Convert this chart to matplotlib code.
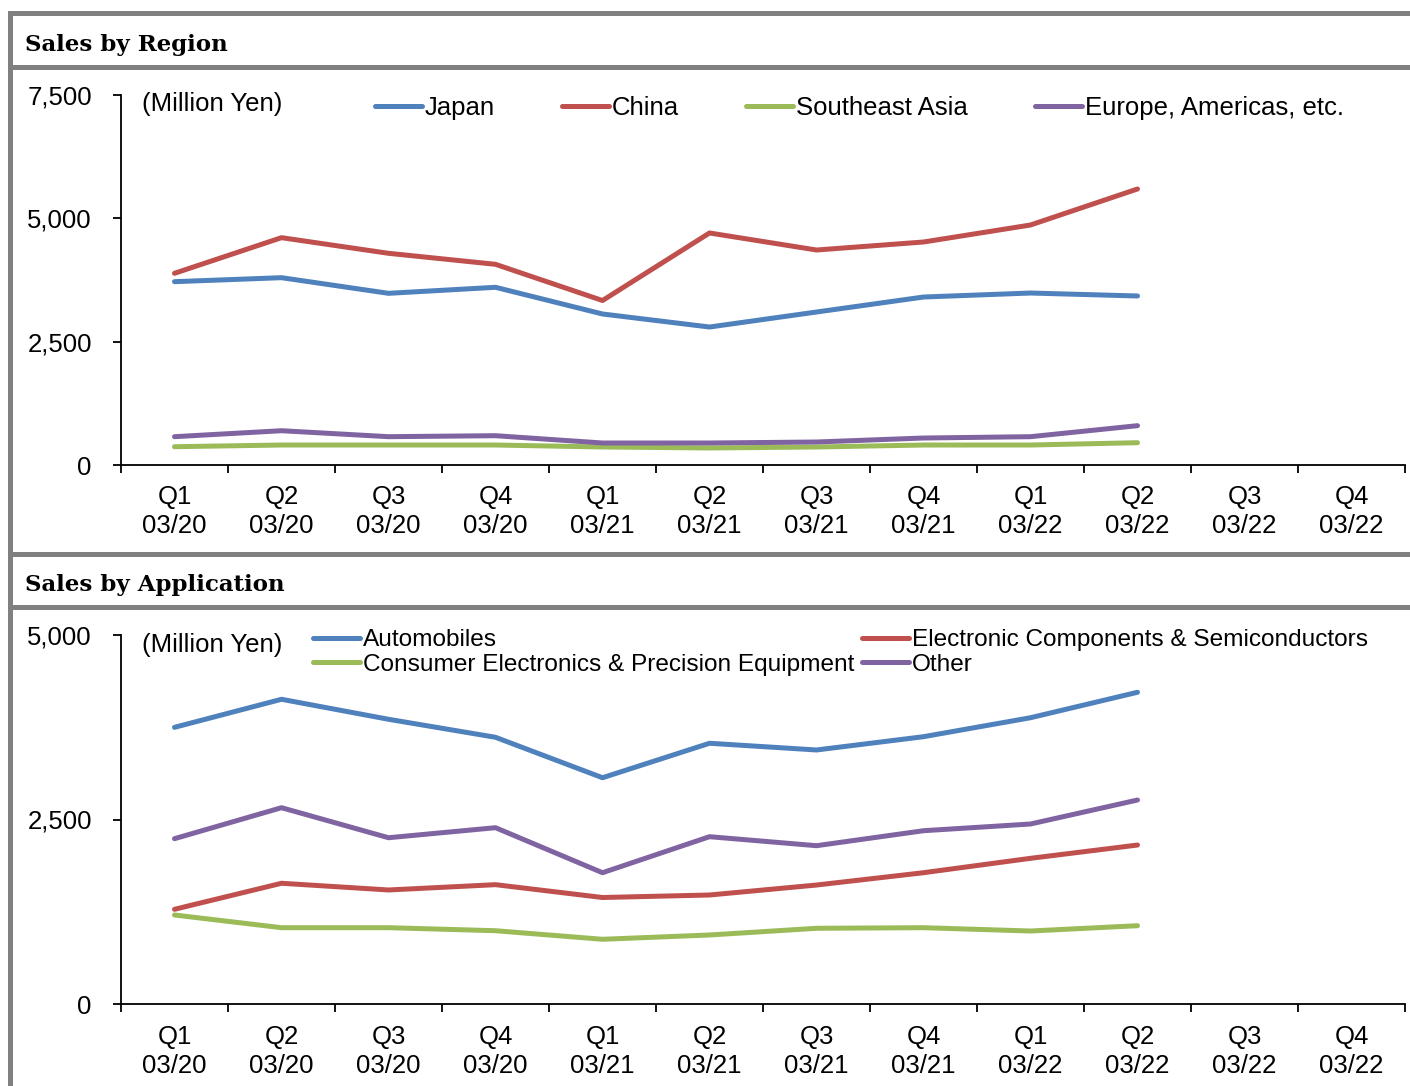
import matplotlib.pyplot as plt
from matplotlib.patches import Rectangle
from matplotlib.ticker import FuncFormatter, FixedLocator

W, H = 1410, 1086

quarters = ["Q1\n03/20", "Q2\n03/20", "Q3\n03/20", "Q4\n03/20",
            "Q1\n03/21", "Q2\n03/21", "Q3\n03/21", "Q4\n03/21",
            "Q1\n03/22", "Q2\n03/22", "Q3\n03/22", "Q4\n03/22"]

# sales by region (million yen), Q1 03/20 .. Q2 03/22
japan = [3716, 3797, 3480, 3602, 3061, 2797, 3101, 3405, 3486, 3426]
china = [3886, 4608, 4291, 4068, 3334, 4703, 4358, 4520, 4865, 5595]
se_asia = [371, 405, 405, 405, 365, 345, 365, 405, 405, 452]
europe_am = [574, 695, 574, 594, 446, 446, 466, 547, 574, 797]

# sales by application (million yen)
automobiles = [3749, 4129, 3858, 3614, 3066, 3533, 3442, 3622, 3879, 4224]
electronic = [1283, 1636, 1545, 1617, 1443, 1477, 1612, 1779, 1974, 2154]
consumer = [1206, 1034, 1034, 993, 877, 935, 1026, 1034, 989, 1061]
other = [2240, 2660, 2253, 2389, 1779, 2267, 2145, 2348, 2439, 2764]

BLUE, RED, GREEN, PURPLE = "#4F81BD", "#C0504D", "#9BBB59", "#8064A2"
GREY = "#808080"
FS = 18.5

plt.rcParams["font.family"] = "Liberation Sans"


def px_rect(fig, x0, y0, x1, y1):
    # rectangle given in pixel coords, origin top-left
    fig.patches.append(Rectangle((x0 / W, 1 - y1 / H), (x1 - x0) / W, (y1 - y0) / H,
                                 transform=fig.transFigure, color=GREY, lw=0))


def setup_axes(ax, ymax, yticks, unit_y, xpad):
    n = len(quarters)
    ax.set_xlim(-0.5, n - 0.5)
    ax.set_ylim(0, ymax)
    for s in ["top", "right"]:
        ax.spines[s].set_visible(False)
    for s in ["left", "bottom"]:
        ax.spines[s].set_linewidth(1.3)
    ax.xaxis.set_major_locator(FixedLocator([i - 0.5 for i in range(n + 1)]))
    ax.xaxis.set_major_formatter(FuncFormatter(lambda v, p: ""))
    ax.xaxis.set_minor_locator(FixedLocator(range(n)))
    ax.set_xticklabels(quarters, minor=True)
    ax.tick_params(axis="x", which="major", direction="out", length=6, width=1.3)
    ax.tick_params(axis="x", which="minor", length=0, pad=xpad, labelsize=FS)
    for lab in ax.get_xticklabels(minor=True):
        lab.set_linespacing(1.25)
    ax.set_yticks(yticks)
    ax.yaxis.set_major_formatter(FuncFormatter(lambda v, p: f"{int(v):,}"))
    ax.tick_params(axis="y", direction="out", length=6, width=1.3, pad=15, labelsize=FS)
    ax.text(0.0164, unit_y, "(Million Yen)", transform=ax.transAxes,
            fontsize=FS, va="center", ha="left")


fig = plt.figure(figsize=(W / 100, H / 100), dpi=100)

# grey frame
px_rect(fig, 8, 11, W, 16)
px_rect(fig, 8, 11, 13, H)
px_rect(fig, 8, 65, W, 70)
px_rect(fig, 8, 552, W, 557)
px_rect(fig, 8, 605, W, 610)

fig.text(25 / W, 1 - 45 / H, "Sales by Region", family="DejaVu Serif",
         fontweight="bold", fontsize=16.5, va="center", ha="left")
fig.text(25 / W, 1 - 585 / H, "Sales by Application", family="DejaVu Serif",
         fontweight="bold", fontsize=16.5, va="center", ha="left")

x = list(range(len(japan)))
lw = 3.6

ax1 = fig.add_axes([121 / W, 1 - 465 / H, 1284 / W, 370 / H])
setup_axes(ax1, 7500, [0, 2500, 5000, 7500], 0.9757, 14.5)
h_jp, = ax1.plot(x, japan, color=BLUE, lw=lw, solid_capstyle="round", label="Japan")
h_cn, = ax1.plot(x, china, color=RED, lw=lw, solid_capstyle="round", label="China")
h_se, = ax1.plot(x, se_asia, color=GREEN, lw=lw, solid_capstyle="round", label="Southeast Asia")
h_eu, = ax1.plot(x, europe_am, color=PURPLE, lw=lw, solid_capstyle="round",
                 label="Europe, Americas, etc.")
fig.legend(handles=[h_jp, h_cn, h_se, h_eu], loc="upper left",
           bbox_to_anchor=(375 / W, 1 - 96 / H), ncol=4, frameon=False,
           fontsize=FS, handlelength=1.83, handletextpad=0.12, columnspacing=2.6,
           borderpad=0, borderaxespad=0)

ax2 = fig.add_axes([121 / W, 1 - 1004 / H, 1284 / W, 369 / H])
setup_axes(ax2, 5000, [0, 2500, 5000], 0.973, 15)
h_au, = ax2.plot(x, automobiles, color=BLUE, lw=lw, solid_capstyle="round", label="Automobiles")
h_el, = ax2.plot(x, electronic, color=RED, lw=lw, solid_capstyle="round",
                 label="Electronic Components & Semiconductors")
h_co, = ax2.plot(x, consumer, color=GREEN, lw=lw, solid_capstyle="round",
                 label="Consumer Electronics & Precision Equipment")
h_ot, = ax2.plot(x, other, color=PURPLE, lw=lw, solid_capstyle="round", label="Other")
fig.legend(handles=[h_au, h_co, h_el, h_ot], loc="upper left",
           bbox_to_anchor=(313 / W, 1 - 629 / H), ncol=2, frameon=False,
           fontsize=17.6, handlelength=1.93, handletextpad=0.12, columnspacing=0.29,
           labelspacing=0.1, borderpad=0, borderaxespad=0)

fig.savefig("out.png", dpi=100)
